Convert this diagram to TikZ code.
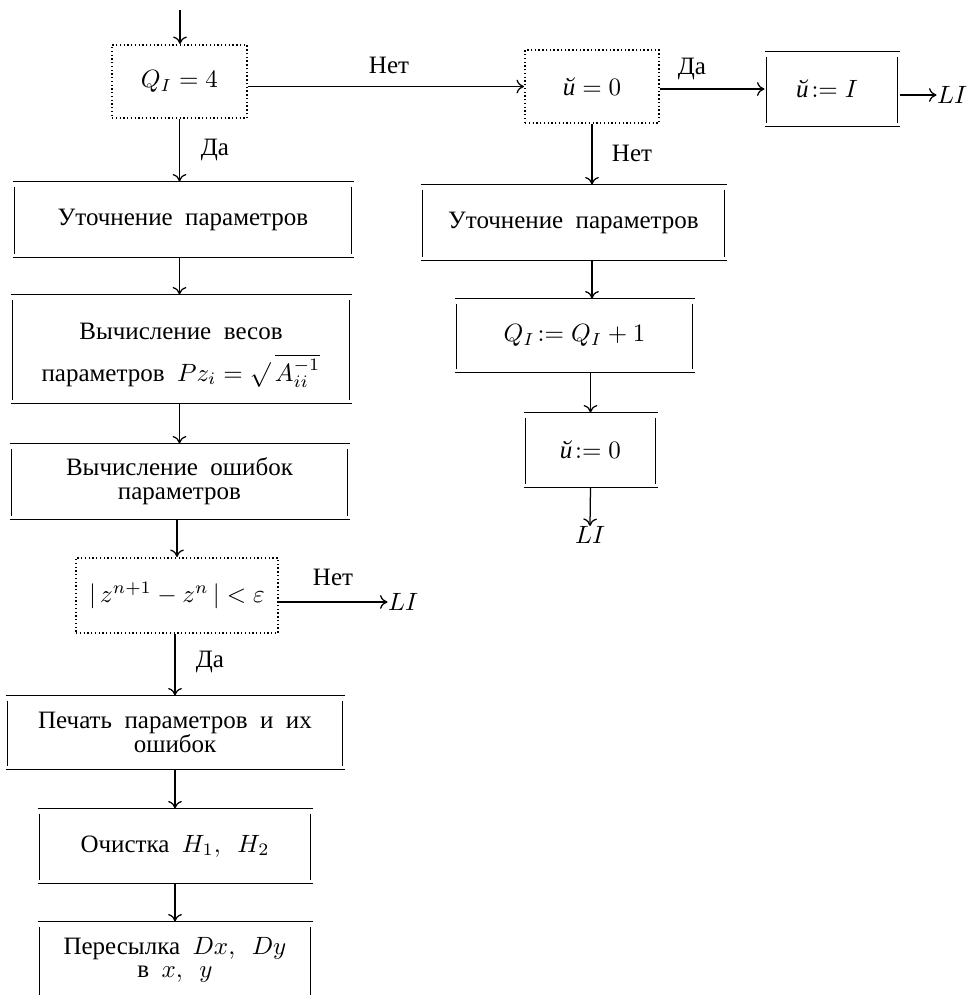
\documentclass[tikz,border=0pt]{standalone}
\usepackage{fontspec}
\setmainfont{Liberation Serif}
\usetikzlibrary{arrows.meta}
\begin{document}
\begin{tikzpicture}[x=0.4pt,y=-0.4pt,
  font=\fontsize{10}{9.5}\selectfont,
  execute at begin node={\spaceskip=5pt\relax},
  sz/.style 2 args={minimum width=#1*0.4pt,minimum height=#2*0.4pt},
  blk/.style={inner sep=0pt,align=center},
  dotbox/.style={draw,line width=0.8pt,dash pattern=on 0.55pt off 0.95pt,inner sep=0pt,align=center},
  bl/.style={line width=0.7pt},
  arr/.style={line width=0.5pt,-{To[length=3pt,width=5.5pt]}},
  lab/.style={inner sep=0pt}]
\useasboundingbox (0,0) rectangle (968,995);
\clip (0,0) rectangle (968,995);

% decision boxes (dotted)
\node[dotbox,sz={135}{73}] (Q) at (179.5,81.5) {$Q_I = 4$};
\node[dotbox,sz={134}{73}] (U0) at (592,86.5) {$\textit{й} = 0$};
\node[dotbox,sz={202}{75}] (L4) at (177,595.5) {$|\,z^{n+1} - z^n\,| < \varepsilon$};

% process boxes
\node[blk,sz={134}{74}] (UI) at (832,89) {$\textit{й}\!: = I$\hspace{4pt}};
\node[blk,sz={305}{75}] (R1) at (573.5,222.5) {Уточнение параметров};
\node[blk,sz={239}{73}] (R2) at (574.5,335.5) {$Q_I\!: = Q_I + 1$};
\node[blk,sz={133}{74}] (R3) at (590.5,450) {$\textit{й}\!: = 0$};
\node[blk,sz={340}{75}] (L1) at (183,219.5) {Уточнение параметров};
\node[blk,sz={340}{108}] (L2) at (181,349) {};
\node[lab] (L2a) at (181,331) {Вычисление весов};
\node[lab] (L2b) at (181,371) {параметров $Pz_i = \surd\,\overline{A_{ii}^{-1}}$};
\node[blk,sz={339}{75}] (L3) at (179.5,481.5) {Вычисление ошибок\\параметров};
\node[blk,sz={338}{73}] (L5) at (175,732.5) {Печать параметров и их\\ошибок};
\node[blk,sz={274}{74}] (L6) at (175,846) {Очистка $H_1,\ H_2$};
\node[blk,sz={274}{76}] (L7) at (175,960) {Пересылка $Dx,\ Dy$\\в $x,\ y$};

\foreach \n in {UI,R1,R2,R3,L1,L2,L3,L5,L6,L7}{
  \draw[bl] (\n.north west) -- (\n.north east);
  \draw[bl] (\n.south west) -- (\n.south east);
  \draw[bl] ([xshift=0.8pt,yshift=-2pt]\n.north west) -- ([xshift=0.8pt,yshift=1.6pt]\n.south west);
  \draw[bl] ([xshift=-0.8pt,yshift=-2pt]\n.north east) -- ([xshift=-0.8pt,yshift=1.6pt]\n.south east);
}

% exits
\node[lab] (LI1) at (952,95) {$LI$};
\node[lab] (LI2) at (590,535) {$LI$};
\node[lab] (LI3) at (403,602) {$LI$};

% labels
\node[lab] (n1) at (389,65) {Нет};
\node[lab] (d1) at (215,150) {Да};
\node[lab] (d2) at (692,69) {Да};
\node[lab] (n2) at (632,153) {Нет};
\node[lab] (n3) at (333,577) {Нет};
\node[lab] (d3) at (210,662) {Да};

% connectors
\coordinate (in) at (180,10);
\draw[arr] (in) -- (in |- Q.north);
\draw[arr] (Q.east |- U0.west) -- (U0.west);
\draw[arr] (U0.east |- UI.west) -- (UI.west);
\draw[arr] (UI.east |- LI1.west) -- (LI1.west);
\draw[arr] (U0.south) -- (U0.south |- R1.north);
\draw[arr] (R1.south -| U0.south) -- (R2.north -| U0.south);
\draw[arr] (R2.south -| R3.north) -- (R3.north);
\draw[arr] (R3.south) -- (LI2.north);

\draw[arr] (Q.south) -- (Q.south |- L1.north);
\draw[arr] (L1.south -| Q.south) -- (L2.north -| Q.south);
\draw[arr] (L2.south -| L3.north) -- (L3.north);
\draw[arr] (L3.south -| L4.north) -- (L4.north);
\draw[arr] (L4.east |- LI3.west) -- (LI3.west);
\draw[arr] (L4.south -| L5.north) -- (L5.north);
\draw[arr] (L5.south -| L6.north) -- (L6.north);
\draw[arr] (L6.south -| L7.north) -- (L7.north);
\end{tikzpicture}
\end{document}
